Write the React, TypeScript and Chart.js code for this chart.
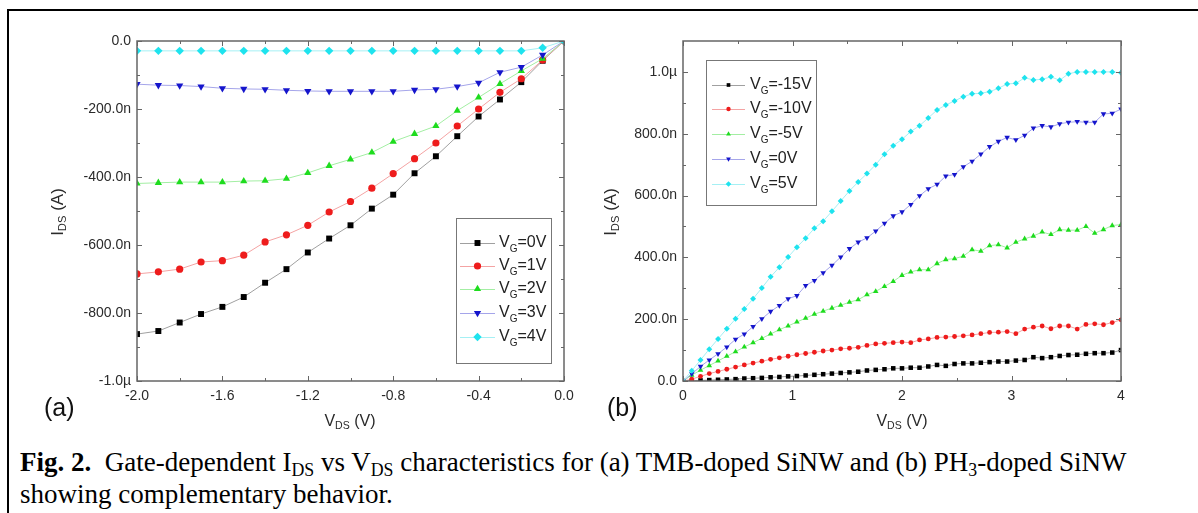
import React, { useEffect, useRef } from 'react';
import { Chart, registerables } from 'chart.js';
import { drawPoint } from 'chart.js/helpers';

Chart.register(...registerables);

// ---------------- Panel (a): TMB-doped SiNW ----------------
const VDS_A = [-2.0, -1.9, -1.8, -1.7, -1.6, -1.5, -1.4, -1.3, -1.2, -1.1, -1.0, -0.9, -0.8, -0.7, -0.6, -0.5, -0.4, -0.3, -0.2, -0.1, 0.0];
// I_DS in nA
const IDS_A_VG0 = [-862, -853, -828, -803, -782, -753, -711, -671, -622, -581, -542, -493, -452, -389, -339, -280, -222, -172, -121, -58, 0];
const IDS_A_VG1 = [-685, -679, -671, -650, -646, -630, -591, -570, -542, -503, -472, -433, -390, -346, -300, -250, -200, -151, -111, -56, 0];
const IDS_A_VG2 = [-419, -417, -415, -415, -415, -412, -411, -405, -388, -367, -348, -328, -296, -273, -250, -205, -166, -126, -88, -52, 0];
const IDS_A_VG3 = [-127, -130, -131, -134, -139, -141, -142, -145, -147, -148, -148, -148, -148, -144, -142, -134, -123, -92, -77, -41, 0];
const IDS_A_VG4 = [-29, -29, -29, -29, -29, -29, -29, -29, -29, -29, -29, -29, -29, -29, -29, -29, -29, -29, -29, -20, 0];
const LEGEND_A = ['0V', '1V', '2V', '3V', '4V'];

const A_X_TICKS = [-2.0, -1.6, -1.2, -0.8, -0.4, 0.0];
const A_X_LABELS = ['-2.0', '-1.6', '-1.2', '-0.8', '-0.4', '0.0'];
const A_X_MINOR = [-1.8, -1.4, -1.0, -0.6, -0.2];
const A_Y_TICKS = [-1000, -800, -600, -400, -200, 0];
const A_Y_LABELS = ['-1.0\u00b5', '-800.0n', '-600.0n', '-400.0n', '-200.0n', '0.0'];
const A_Y_MINOR = [-900, -700, -500, -300, -100];

// ---------------- Panel (b): PH3-doped SiNW ----------------
const VDS_B = [0, 0.08, 0.16, 0.24, 0.32, 0.40, 0.48, 0.56, 0.64, 0.72, 0.80, 0.88, 0.96, 1.04, 1.12, 1.20, 1.28, 1.36, 1.44, 1.52, 1.60,
  1.68, 1.76, 1.84, 1.92, 2.00, 2.08, 2.16, 2.24, 2.32, 2.40, 2.48, 2.56, 2.64, 2.72, 2.80, 2.88, 2.96, 3.04, 3.12, 3.20,
  3.28, 3.36, 3.44, 3.52, 3.60, 3.68, 3.76, 3.84, 3.92, 4.00];
const IDS_B_VGm15 = [0, 1, 2, 3, 4, 5, 6, 8, 9, 10, 12, 13, 15, 16, 18, 20, 22, 24, 26, 28, 30,
  34, 36, 38, 41, 41, 43, 43, 47, 52, 49, 55, 57, 57, 59, 61, 63, 63, 66, 68, 77,
  74, 77, 81, 84, 85, 88, 90, 90, 92, 100];
const IDS_B_VGm10 = [0, 6, 15, 24, 31, 38, 45, 52, 58, 64, 70, 75, 80, 85, 89, 93, 97, 100, 104, 106, 109,
  115, 120, 122, 124, 126, 124, 133, 136, 141, 142, 144, 146, 149, 153, 157, 158, 160, 153, 168, 174,
  178, 169, 178, 178, 168, 183, 185, 182, 189, 198];
const IDS_B_VGm5 = [0, 19, 35, 50, 65, 80, 95, 110, 124, 138, 152, 166, 178, 191, 203, 216, 226, 236, 245, 255, 263,
  279, 290, 306, 322, 342, 353, 360, 360, 380, 393, 396, 404, 425, 420, 438, 441, 431, 449, 460, 469,
  482, 474, 490, 488, 488, 500, 478, 490, 503, 506];
const IDS_B_VG0 = [0, 23, 47, 68, 88, 110, 135, 152, 176, 201, 225, 244, 266, 276, 309, 325, 350, 374, 401, 428, 449,
  463, 485, 510, 534, 547, 571, 599, 622, 636, 663, 668, 693, 711, 734, 758, 775, 788, 780, 795, 818,
  826, 822, 832, 837, 839, 837, 837, 864, 866, 880];
const IDS_B_VG5 = [0, 33, 68, 103, 136, 169, 201, 233, 266, 301, 337, 368, 401, 433, 462, 494, 517, 549, 582, 615, 644,
  671, 700, 734, 761, 782, 807, 826, 851, 877, 893, 906, 920, 929, 931, 936, 947, 961, 963, 981, 974,
  976, 984, 973, 994, 1000, 1000, 1000, 1000, 1000, 997];
const LEGEND_B = ['-15V', '-10V', '-5V', '0V', '5V'];

const B_X_TICKS = [0, 1, 2, 3, 4];
const B_X_LABELS = ['0', '1', '2', '3', '4'];
const B_X_MINOR = [0.5, 1.5, 2.5, 3.5];
const B_Y_TICKS = [0, 200, 400, 600, 800, 1000];
const B_Y_LABELS = ['0.0', '200.0n', '400.0n', '600.0n', '800.0n', '1.0\u00b5'];
const B_Y_MINOR = [100, 300, 500, 700, 900];

// ---------------- styling ----------------
const SANS = '"Liberation Sans", Arial, sans-serif';
const SERIF = '"Liberation Serif", "Times New Roman", serif';

const STYLES = [
  { color: '#000000', line: '#a0a0a0', style: 'rect', rot: 0 },
  { color: '#ee1c1c', line: '#f4a3a3', style: 'circle', rot: 0 },
  { color: '#1edc1e', line: '#a3eea3', style: 'triangle', rot: 0 },
  { color: '#1515cc', line: '#a5a5ea', style: 'triangle', rot: 180 },
  { color: '#1ee3ee', line: '#a5f0f4', style: 'rectRot', rot: 0 },
];

type Axis = { min: number; max: number; ticks: number[]; labels: string[]; minor: number[] };
type Panel = {
  left: number; top: number; width: number; height: number;
  plot: { l: number; t: number; r: number; b: number };
  x: Axis; y: Axis;
  xs: number[]; ys: number[][]; names: string[];
  radii: number[];
  legend: { x: number; y: number; w: number; h: number; rows: number[]; lx0: number; lx1: number; tx: number; r: number[] };
};

const PANEL_A: Panel = {
  left: 20, top: 20, width: 580, height: 400,
  plot: { l: 137, t: 41, r: 564, b: 381 },
  x: { min: -2, max: 0, ticks: A_X_TICKS, labels: A_X_LABELS, minor: A_X_MINOR },
  y: { min: -1000, max: 0, ticks: A_Y_TICKS, labels: A_Y_LABELS, minor: A_Y_MINOR },
  xs: VDS_A, ys: [IDS_A_VG0, IDS_A_VG1, IDS_A_VG2, IDS_A_VG3, IDS_A_VG4], names: LEGEND_A,
  radii: [4.2, 3.6, 4.2, 4.2, 4.2],
  legend: { x: 456, y: 218, w: 95, h: 145, rows: [243, 266, 289, 313, 337], lx0: 460, lx1: 495, tx: 499, r: [4.2, 3.6, 4.2, 4.2, 4.2] },
};

const PANEL_B: Panel = {
  left: 620, top: 20, width: 560, height: 400,
  plot: { l: 683, t: 41, r: 1121, b: 381 },
  x: { min: 0, max: 4, ticks: B_X_TICKS, labels: B_X_LABELS, minor: B_X_MINOR },
  y: { min: 0, max: 1100, ticks: B_Y_TICKS, labels: B_Y_LABELS, minor: B_Y_MINOR },
  xs: VDS_B, ys: [IDS_B_VGm15, IDS_B_VGm10, IDS_B_VGm5, IDS_B_VG0, IDS_B_VG5], names: LEGEND_B,
  radii: [3.2, 2.4, 3.2, 3.2, 3.0],
  legend: { x: 706, y: 60, w: 110, h: 145, rows: [85, 109, 134, 159, 184], lx0: 712, lx1: 745, tx: 750, r: [2.6, 2.2, 2.8, 2.8, 2.8] },
};

function PanelChart({ p }: { p: Panel }) {
  const ref = useRef<HTMLCanvasElement | null>(null);
  useEffect(() => {
    if (!ref.current) return;
    const padL = 0;
    const yW = p.plot.l - p.left - padL;
    const padR = p.left + p.width - p.plot.r;
    const padT = p.plot.t - p.top;
    const xH = p.top + p.height - p.plot.b;

    const datasets = p.ys.map((ys, i) => ({
      label: 'VG=' + p.names[i],
      data: p.xs.map((x, j) => ({ x, y: ys[j] })),
      borderColor: STYLES[i].line,
      borderWidth: 1,
      backgroundColor: STYLES[i].color,
      pointBackgroundColor: STYLES[i].color,
      pointBorderColor: STYLES[i].color,
      pointBorderWidth: 0,
      pointStyle: STYLES[i].style as any,
      pointRotation: STYLES[i].rot,
      pointRadius: p.radii[i],
      showLine: true,
      tension: 0,
      order: 5 - i,
    }));

    const decor = {
      id: 'decor',
      afterDatasetsDraw(chart: any) {
        const { ctx, chartArea: ca, scales } = chart;
        const xs = scales.x, ys = scales.y;
        ctx.save();
        ctx.strokeStyle = '#666';
        ctx.lineWidth = 1;
        const seg = (x1: number, y1: number, x2: number, y2: number) => {
          ctx.beginPath(); ctx.moveTo(x1, y1); ctx.lineTo(x2, y2); ctx.stroke();
        };
        const xt = (v: number, len: number) => {
          const px = Math.round(xs.getPixelForValue(v)) + 0.5;
          seg(px, ca.bottom, px, ca.bottom - len);
          seg(px, ca.top, px, ca.top + len);
        };
        const yt = (v: number, len: number) => {
          const py = Math.round(ys.getPixelForValue(v)) + 0.5;
          seg(ca.left, py, ca.left + len, py);
          seg(ca.right, py, ca.right - len, py);
        };
        p.x.ticks.forEach((v) => xt(v, 5));
        p.x.minor.forEach((v) => xt(v, 3));
        p.y.ticks.forEach((v) => yt(v, 5));
        p.y.minor.forEach((v) => yt(v, 3));
        ctx.lineWidth = 1.5;
        ctx.strokeStyle = '#666';
        ctx.strokeRect(ca.left, ca.top, ca.right - ca.left, ca.bottom - ca.top);

        // legend
        const L = p.legend;
        const ox = p.left, oy = p.top;
        ctx.fillStyle = '#ffffff';
        ctx.fillRect(L.x - ox, L.y - oy, L.w, L.h);
        ctx.lineWidth = 1;
        ctx.strokeStyle = '#777';
        ctx.strokeRect(L.x - ox + 0.5, L.y - oy + 0.5, L.w, L.h);
        L.rows.forEach((ry, i) => {
          const y = ry - oy;
          ctx.strokeStyle = STYLES[i].line;
          ctx.lineWidth = 1;
          seg(L.lx0 - ox, y + 0.5, L.lx1 - ox, y + 0.5);
          ctx.fillStyle = STYLES[i].color;
          ctx.strokeStyle = STYLES[i].color;
          drawPoint(ctx, { pointStyle: STYLES[i].style as any, rotation: STYLES[i].rot, radius: L.r[i], borderWidth: 0 } as any, (L.lx0 + L.lx1) / 2 - ox, y);
          ctx.fillStyle = '#222';
          ctx.textBaseline = 'middle';
          ctx.textAlign = 'left';
          let tx = L.tx - ox;
          ctx.font = '16px ' + SANS;
          ctx.fillText('V', tx, y);
          tx += ctx.measureText('V').width;
          ctx.font = '10px ' + SANS;
          ctx.fillText('G', tx, y + 6);
          tx += ctx.measureText('G').width;
          ctx.font = '16px ' + SANS;
          ctx.fillText('=' + p.names[i], tx, y);
        });
        ctx.restore();
      },
    };

    const tickFont = { family: SANS, size: 14 };
    const chart = new Chart(ref.current, {
      type: 'line',
      data: { datasets },
      plugins: [decor],
      options: {
        responsive: false,
        animation: false,
        events: [],
        layout: { padding: { left: padL, right: padR, top: padT, bottom: 0 } },
        plugins: { legend: { display: false }, tooltip: { enabled: false } },
        scales: {
          x: {
            type: 'linear', min: p.x.min, max: p.x.max,
            grid: { display: false, drawTicks: false },
            border: { display: false },
            afterBuildTicks: (s: any) => { s.ticks = p.x.ticks.map((v) => ({ value: v })); },
            afterFit: (s: any) => { s.height = xH; },
            ticks: {
              autoSkip: false, maxRotation: 0, padding: 7, color: '#2a2a2a', font: tickFont,
              callback: (v: any) => { const k = p.x.ticks.findIndex((t) => Math.abs(t - v) < 1e-9); return k >= 0 ? p.x.labels[k] : ''; },
            },
          },
          y: {
            type: 'linear', min: p.y.min, max: p.y.max,
            grid: { display: false, drawTicks: false },
            border: { display: false },
            afterBuildTicks: (s: any) => { s.ticks = p.y.ticks.map((v) => ({ value: v })); },
            afterFit: (s: any) => { s.width = yW; },
            ticks: {
              autoSkip: false, padding: 6, color: '#2a2a2a', font: tickFont,
              callback: (v: any) => { const k = p.y.ticks.findIndex((t) => Math.abs(t - v) < 1e-9); return k >= 0 ? p.y.labels[k] : ''; },
            },
          },
        },
      } as any,
    });
    return () => chart.destroy();
  }, [p]);
  return (
    <canvas ref={ref} width={p.width} height={p.height}
      style={{ position: 'absolute', left: p.left, top: p.top, width: p.width, height: p.height }} />
  );
}

const sub: React.CSSProperties = { fontSize: '0.66em', position: 'relative', top: '0.3em' };

function AxisTitles({ cx, cy, text }: { cx: number; cy: number; text: 'V' | 'I' }) {
  const inner = text === 'V'
    ? (<>V<span style={sub}>DS</span> (V)</>)
    : (<>I<span style={sub}>DS</span> (A)</>);
  return (
    <div style={{
      position: 'absolute', left: cx, top: cy, fontFamily: SANS, fontSize: text === 'I' ? 17 : 16, color: '#2a2a2a',
      whiteSpace: 'nowrap', lineHeight: '18px',
      transform: text === 'I' ? 'translate(-50%, -50%) rotate(-90deg)' : 'translate(-50%, -50%)',
    }}>{inner}</div>
  );
}

export default function App() {
  return (
    <div style={{ position: 'absolute', left: 0, top: 0, width: 1198, height: 513, overflow: 'hidden', background: '#fff' }}>
      <div style={{ position: 'absolute', left: 7, top: 9, width: 1191, height: 504, borderTop: '2px solid #000', borderLeft: '2px solid #000', boxSizing: 'border-box' }} />
      <PanelChart p={PANEL_A} />
      <PanelChart p={PANEL_B} />
      <AxisTitles cx={350} cy={421} text="V" />
      <AxisTitles cx={902} cy={421} text="V" />
      <AxisTitles cx={58} cy={212} text="I" />
      <AxisTitles cx={611} cy={212} text="I" />
      <div style={{ position: 'absolute', left: 44, top: 394, fontFamily: SANS, fontSize: 25, color: '#111', lineHeight: '26px' }}>(a)</div>
      <div style={{ position: 'absolute', left: 607, top: 394, fontFamily: SANS, fontSize: 25, color: '#111', lineHeight: '26px' }}>(b)</div>
      <div style={{ position: 'absolute', left: 20, top: 448, fontFamily: SERIF, fontSize: 27, lineHeight: '29px', color: '#000', whiteSpace: 'nowrap' }}>
        <b>Fig. 2.</b>&nbsp; Gate-dependent I<span style={sub}>DS</span> vs V<span style={sub}>DS</span> characteristics for (a) TMB-doped SiNW and (b) PH<span style={sub}>3</span>-doped SiNW
        <br />
        showing complementary behavior.
      </div>
    </div>
  );
}
